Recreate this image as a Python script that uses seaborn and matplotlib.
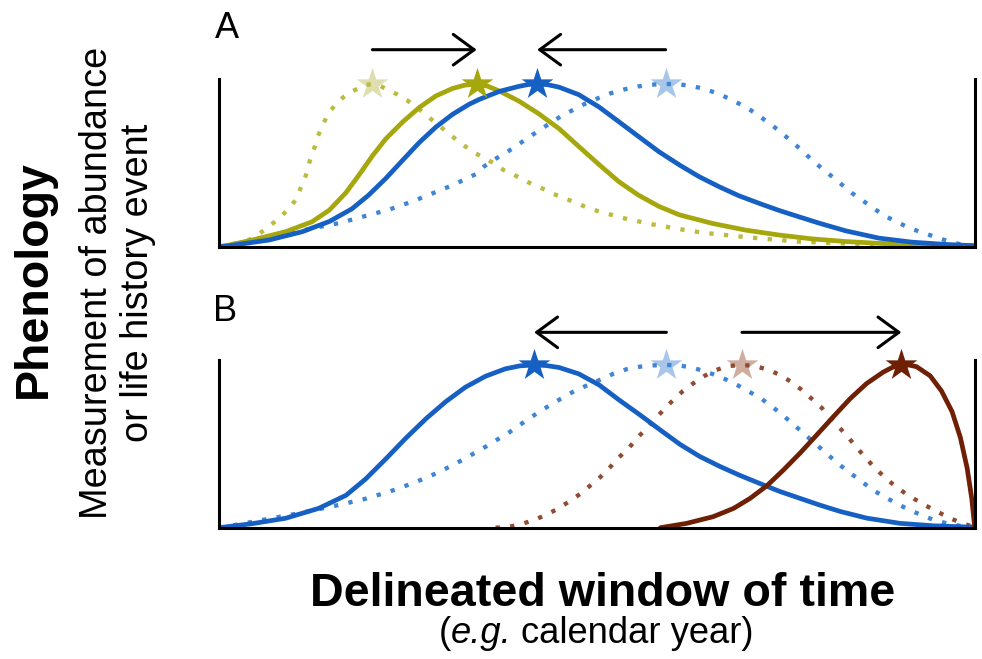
import matplotlib
matplotlib.use("Agg")
import numpy as np
import matplotlib.pyplot as plt
import seaborn as sns

# time across the window (0-100) and relative abundance (peak = 100)
# panel A: olive shifts later, blue shifts earlier (dotted = before, solid = after)
a_olive_before_x = [0, 3.7, 5.2, 6.6, 7.9, 9.3, 10.3, 10.9, 11.6, 12.0, 12.6, 13.1, 13.8, 14.6, 15.7, 17.0,
                    18.5, 19.4, 20.3, 21.1, 21.9, 23.4, 24.9, 26.4, 27.7, 29.1, 30.4, 31.8, 33.1, 34.4, 36.2,
                    37.7, 39.3, 40.8, 42.6, 44.1, 45.8, 47.4, 49.0, 50.7, 52.4, 54.0, 55.8, 57.4, 59.1,
                    60.9, 62.6, 64.4, 66.2, 69.7, 73.2, 76.8, 82.8, 90.1, 100]
a_olive_before_y = [0, 3.5, 7.6, 12.3, 17.4, 23.5, 29.7, 37.2, 45.0, 52.5, 60.3, 68.0, 75.6, 82.7, 88.8, 94.0,
                    97.4, 99.3, 100, 99.3, 97.4, 94.0, 89.9, 84.8, 79.7, 74.6, 69.5, 64.3, 59.9, 56.2, 51.7,
                    47.0, 43.5, 39.8, 36.2, 32.7, 29.7, 26.6, 23.5, 21.1, 19.0, 17.0, 15.3, 13.7, 12.3,
                    10.8, 9.6, 8.4, 7.6, 5.9, 4.5, 3.1, 2.0, 1.0, 0.4]
a_olive_after_x = [0, 1.3, 4.4, 8.8, 12.3, 14.6, 16.8, 18.5, 20.3, 22.1, 24.3, 26.5, 28.7, 30.9, 32.5, 34.1,
                   35.6, 37.1, 39.7, 42.3, 45.0, 47.6, 50.3, 52.9, 55.5, 58.2, 60.9, 65.3, 69.7, 74.1,
                   78.5, 82.9, 87.3, 91.7, 96.2, 100]
a_olive_after_y = [0, 1.0, 4.1, 9.2, 15.3, 22.5, 33.2, 43.9, 55.8, 66.4, 76.6, 85.5, 92.6, 97.2, 99.2, 100,
                   98.5, 95.6, 89.4, 81.7, 72.5, 61.6, 50.4, 40.0, 31.7, 24.8, 19.6, 14.3, 10.2, 7.2,
                   4.8, 3.2, 2.1, 1.4, 0.9, 0.6]
a_blue_before_x = [0, 2.2, 5.3, 8.8, 12.3, 15.9, 19.0, 22.5, 25.6, 28.7, 30.9, 34.0, 35.1, 36.6, 38.2, 39.6,
                   41.0, 42.6, 44.0, 45.4, 47.1, 48.6, 50.2, 51.8, 53.6, 55.4, 57.1, 59.1, 60.6, 62.2,
                   64.0, 65.7, 67.3, 68.8, 70.4, 71.8, 73.2, 74.5, 75.9, 77.2, 78.5, 79.8, 81.2, 82.5,
                   83.8, 85.4, 86.9, 88.2, 89.8, 91.3, 93.1, 94.8, 96.4, 98.1, 100]
a_blue_before_y = [0, 1.0, 4.1, 7.6, 11.3, 14.5, 18.4, 22.8, 27.8, 33.6, 37.8, 44.6, 49.4, 54.0, 58.4, 62.8,
                   67.2, 72.2, 76.4, 80.6, 84.6, 88.2, 91.3, 94.2, 96.6, 98.4, 99.5, 100, 99.8, 99.0,
                   97.2, 94.6, 91.4, 87.9, 83.7, 79.2, 74.6, 69.6, 64.3, 58.7, 53.2, 48.0, 42.8, 37.8,
                   32.8, 27.6, 22.7, 18.7, 15.0, 11.6, 8.6, 6.0, 3.5, 1.5, 0.1]
a_blue_after_x = [0, 1.3, 6.6, 11.0, 14.6, 17.6, 19.8, 22.1, 24.3, 26.5, 28.7, 30.9, 33.1, 34.4, 37.1, 39.7,
                  40.9, 42.1, 43.5, 45.0, 47.6, 50.3, 52.9, 55.6, 58.2, 60.9, 63.5, 66.2, 68.8, 71.5,
                  74.1, 76.8, 79.4, 82.9, 87.3, 91.7, 96.2, 100]
a_blue_after_y = [0, 0.6, 4.1, 9.2, 15.5, 23.3, 31.7, 42.1, 53.1, 64.0, 73.5, 81.3, 87.5, 90.4, 95.4, 98.5,
                  99.6, 100, 99.5, 98.0, 93.4, 85.8, 76.8, 67.4, 58.4, 50.3, 43.1, 36.8, 31.3, 26.6,
                  22.3, 18.3, 14.5, 9.8, 5.3, 2.8, 1.4, 0.6]

# panel B: blue shifts earlier, brown shifts later
b_blue_before_x = [0, 1.3, 5.3, 10.6, 15.9, 19.4, 22.5, 25.8, 29.1, 32.2, 35.3, 38.4, 41.2, 44.1, 47.2, 50.3,
                   52.2, 53.9, 55.7, 57.5, 59.2, 61.0, 62.5, 64.1, 65.6, 67.2, 68.7, 70.2, 71.8, 73.1,
                   74.5, 75.8, 77.1, 78.4, 79.8, 81.1, 82.4, 83.9, 85.3, 86.8, 88.4, 89.9, 91.4, 93.0,
                   94.5, 96.3, 98.1, 100]
b_blue_before_y = [0, 1.0, 4.4, 8.9, 14.0, 17.8, 22.1, 27.6, 34.1, 41.6, 49.8, 58.6, 67.6, 76.2, 84.4, 90.6,
                   94.6, 97.3, 98.9, 99.7, 100, 99.6, 98.4, 96.4, 93.9, 90.8, 87.3, 83.4, 79.1, 74.7,
                   69.5, 64.3, 59.0, 53.7, 48.0, 42.7, 37.6, 32.3, 27.4, 22.4, 18.1, 14.3, 10.8, 7.7,
                   4.9, 2.7, 1.1, 0.3]
b_blue_after_x = [0, 4.4, 8.8, 13.2, 16.8, 19.4, 22.1, 24.7, 27.4, 30.0, 32.6, 35.3, 37.9, 39.8, 41.7, 43.3,
                  45.0, 47.6, 50.3, 52.9, 55.7, 58.4, 61.0, 63.6, 66.3, 68.9, 71.6, 74.2, 76.9, 79.5,
                  82.2, 85.7, 90.1, 94.5, 100]
b_blue_after_y = [0, 2.5, 5.8, 11.9, 19.9, 29.9, 42.4, 54.9, 67.0, 77.4, 86.3, 93.1, 97.6, 99.4, 100, 99.6,
                  98.4, 94.5, 87.7, 78.6, 69.3, 60.0, 51.2, 43.8, 37.6, 32.2, 27.1, 22.3, 18.0, 13.9,
                  10.0, 5.9, 2.7, 1.2, 0.3]
b_brown_before_x = [36.6, 38.4, 39.9, 41.7, 43.2, 44.8, 46.3, 47.9, 49.2, 50.5, 51.7, 52.8, 54.2, 55.3, 56.5,
                    57.7, 59.0, 60.2, 61.4, 62.8, 64.2, 65.6, 67.4, 69.2, 70.9, 72.7, 74.2, 75.6, 77.1,
                    78.4, 79.8, 80.9, 82.1, 83.3, 84.4, 85.5, 86.7, 87.9, 89.2, 90.6, 92.1, 93.6, 95.2,
                    96.7, 98.3, 100]
b_brown_before_y = [0, 0.6, 2.1, 4.7, 7.8, 11.5, 16.0, 21.1, 26.2, 31.3, 36.9, 42.7, 48.8, 54.9, 60.7,
                    66.8, 73.2, 78.9, 84.0, 88.8, 93.1, 96.6, 99.3, 100, 99.3, 97.0, 93.9, 89.9, 84.7,
                    79.3, 73.4, 67.4, 61.5, 55.3, 49.2, 43.2, 37.2, 31.8, 26.6, 21.8, 17.4, 13.4, 9.5,
                    5.9, 2.8, 0.3]
b_brown_after_x = [58.4, 61.9, 65.4, 68.1, 70.3, 72.5, 74.7, 76.9, 79.1, 81.3, 83.5, 85.7, 87.9, 89.1, 90.3,
                   91.3, 92.3, 94.1, 95.6, 97.0, 98.1, 99.0, 99.6, 100]
b_brown_after_y = [0, 2.7, 6.8, 11.9, 18.1, 25.8, 35.5, 45.9, 57.0, 68.2, 79.2, 88.6, 95.6, 98.5, 100,
                   99.9, 98.9, 93.3, 84.0, 71.3, 55.4, 36.5, 18.1, 0.3]

OLIVE, OLIVE_DOT, OLIVE_STAR = "#a6a60d", "#bbbb40", "#dedeb0"
BLUE, BLUE_DOT, BLUE_STAR = "#1660c4", "#4185d6", "#a8c6ea"
BROWN, BROWN_DOT, BROWN_STAR = "#6e1f04", "#8f4c33", "#cfae9f"

sns.set_style("white")
plt.rcParams["font.family"] = ["Liberation Sans", "DejaVu Sans"]
plt.rcParams["text.color"] = "black"

DOTS = (0, (1, 2.4))


def peak(x, y):
    i = int(np.argmax(y))
    return x[i], y[i]


def draw_shift(ax, before, after, col, col_dot, col_star, arrow_y):
    bx, by = before
    sx, sy = after
    p0 = peak(bx, by)
    p1 = peak(sx, sy)
    # faded star sits under the dotted "before" curve
    sns.scatterplot(x=[p0[0]], y=[p0[1]], ax=ax, marker="*", s=24 ** 2, color=col_star,
                    linewidth=0, zorder=2, clip_on=False)
    sns.lineplot(x=bx, y=by, ax=ax, color=col_dot, linewidth=3.1, linestyle=DOTS,
                 dash_capstyle="butt", estimator=None, sort=False, zorder=3)
    sns.lineplot(x=sx, y=sy, ax=ax, color=col, linewidth=3.4, estimator=None, sort=False,
                 zorder=4, solid_joinstyle="round")
    sns.scatterplot(x=[p1[0]], y=[p1[1]], ax=ax, marker="*", s=24 ** 2, color=col,
                    linewidth=0, zorder=5, clip_on=False)
    ax.annotate("", xy=(p1[0], arrow_y), xytext=(p0[0], arrow_y), annotation_clip=False,
                arrowprops=dict(arrowstyle="->,head_length=0.75,head_width=0.55", lw=2.2,
                                color="black", shrinkA=0, shrinkB=0, mutation_scale=20))


def style_axes(ax):
    ax.set_xlim(0, 100)
    ax.set_ylim(0, 103)
    ax.set_xticks([])
    ax.set_yticks([])
    ax.set_xlabel("")
    ax.set_ylabel("")
    ax.spines["top"].set_visible(False)
    for side in ["left", "right", "bottom"]:
        ax.spines[side].set_color("black")
        ax.spines[side].set_linewidth(2.2)
        ax.spines[side].set_zorder(10)
    ax.patch.set_alpha(0)


fig = plt.figure(figsize=(9.82, 6.59), dpi=100)
ax_a = fig.add_axes([0.2230, 0.6256, 0.7696, 0.2545])
ax_b = fig.add_axes([0.2230, 0.1992, 0.7696, 0.2545])

draw_shift(ax_a, (a_olive_before_x, a_olive_before_y), (a_olive_after_x, a_olive_after_y),
           OLIVE, OLIVE_DOT, OLIVE_STAR, 121)
draw_shift(ax_a, (a_blue_before_x, a_blue_before_y), (a_blue_after_x, a_blue_after_y),
           BLUE, BLUE_DOT, BLUE_STAR, 121)
draw_shift(ax_b, (b_blue_before_x, b_blue_before_y), (b_blue_after_x, b_blue_after_y),
           BLUE, BLUE_DOT, BLUE_STAR, 120)
draw_shift(ax_b, (b_brown_before_x, b_brown_before_y), (b_brown_after_x, b_brown_after_y),
           BROWN, BROWN_DOT, BROWN_STAR, 120)

for ax in (ax_a, ax_b):
    style_axes(ax)

fig.text(0.219, 0.9419, "A", fontsize=26, va="baseline", ha="left")
fig.text(0.217, 0.5134, "B", fontsize=26, va="baseline", ha="left")

fig.text(0.0350, 0.5766, "Phenology", fontsize=33.5, fontweight="bold", rotation=90,
         ha="center", va="center")
fig.text(0.1195, 0.5706, "Measurement of abundance\nor life history event", fontsize=27.3,
         rotation=90, ha="center", va="center", multialignment="center", linespacing=1.2)

fig.text(0.614, 0.0804, "Delineated window of time", fontsize=33.6, fontweight="bold",
         ha="center", va="baseline")

# "(e.g. calendar year)" with only e.g. in italics, centred as one line
renderer = fig.canvas.get_renderer()
fs = 26.2
pieces = [fig.text(0, 0.024, "(", fontsize=fs, va="baseline"),
          fig.text(0, 0.024, "e.g.", fontsize=fs, va="baseline", style="italic"),
          fig.text(0, 0.024, "calendar year)", fontsize=fs, va="baseline")]
space = fig.text(0, 0, "a a", fontsize=fs)
pair = fig.text(0, 0, "aa", fontsize=fs)
gap = space.get_window_extent(renderer).width - pair.get_window_extent(renderer).width
space.remove()
pair.remove()
widths = [p.get_window_extent(renderer).width for p in pieces]
total = sum(widths) + gap
xpix = 0.607 * fig.bbox.width - total / 2
for i, (p, w) in enumerate(zip(pieces, widths)):
    p.set_x(xpix / fig.bbox.width)
    xpix += w + (gap if i == 1 else 0)

fig.savefig("out.png", dpi=100)
